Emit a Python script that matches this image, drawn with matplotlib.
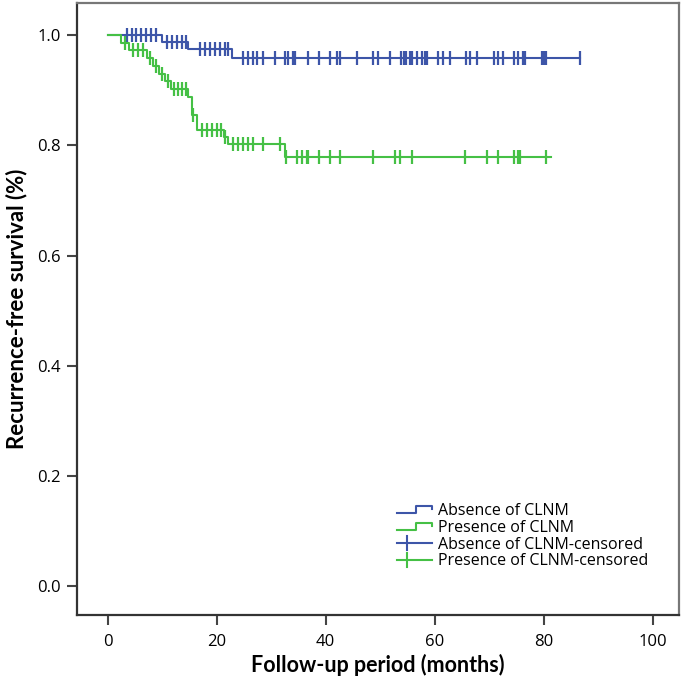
import numpy as np
import matplotlib
matplotlib.use("Agg")
from matplotlib import pyplot as plt
from matplotlib.legend_handler import HandlerBase
from matplotlib.lines import Line2D

# Absence of CLNM (blue)
blue_times = [0, 9.9, 14.8, 22.9]
blue_surv = [1.0, 0.987, 0.974, 0.958]
blue_end = 86.6
blue_censored = [3.5, 4.4, 5.3, 6.2, 7.1, 8.0, 8.9, 10.9, 11.8, 12.7, 13.6, 14.4,
                 17.0, 17.9, 18.8, 19.7, 20.6, 21.5, 22.1, 24.9, 25.8, 26.7, 27.4,
                 28.5, 30.7, 32.5, 33.1, 34.0, 34.4, 36.8, 38.8, 40.8, 42.0, 42.7,
                 45.7, 48.7, 49.6, 51.8, 53.9, 54.3, 54.8, 55.4, 55.9, 56.7, 57.6,
                 58.2, 58.6, 60.6, 61.5, 62.8, 65.7, 66.4, 67.7, 70.9, 71.6, 72.6,
                 74.5, 75.3, 76.2, 76.5, 79.6, 80.0, 80.5, 86.6]

# Presence of CLNM (green)
green_times = [0, 2.5, 4.0, 7.3, 8.3, 9.4, 10.5, 11.6, 14.8, 15.4, 16.4, 21.4, 22.1, 32.6]
green_surv = [1.0, 0.986, 0.972, 0.958, 0.944, 0.930, 0.916, 0.902, 0.888, 0.855,
              0.828, 0.815, 0.802, 0.779]
green_end = 81.4
green_censored = [3.2, 4.7, 5.5, 6.5, 7.8, 8.8, 9.9, 11.0, 12.2, 12.9, 13.6, 14.3,
                  15.7, 17.3, 18.2, 19.1, 20.0, 20.9, 21.6, 23.1, 24.0, 24.9, 25.8,
                  26.7, 28.6, 31.6, 32.8, 34.7, 35.6, 36.5, 36.8, 38.8, 40.8, 42.7,
                  48.7, 52.7, 53.6, 55.8, 65.5, 69.6, 71.6, 74.5, 75.3, 75.6, 80.5]

labels = ["Absence of CLNM", "Presence of CLNM",
          "Absence of CLNM-censored", "Presence of CLNM-censored"]

BLUE = "#3d55a8"
GREEN = "#45c045"
LABEL_FONT = ["Lato", "DejaVu Sans"]
TICK_FONT = ["Open Sans", "DejaVu Sans"]


class StepHandler(HandlerBase):
    def create_artists(self, legend, orig_handle, xdescent, ydescent,
                       width, height, fontsize, trans):
        xs = np.array([0.0, 0.55, 0.55, 1.0, 1.0]) * width - xdescent
        ys = np.array([0.15, 0.15, 0.8, 0.8, 0.5]) * height - ydescent
        line = Line2D(xs, ys, color=orig_handle.get_color(),
                      lw=orig_handle.get_linewidth())
        line.set_transform(trans)
        return [line]


class CensorHandler(HandlerBase):
    def create_artists(self, legend, orig_handle, xdescent, ydescent,
                       width, height, fontsize, trans):
        y = 0.5 * height - ydescent
        line = Line2D([-xdescent, width - xdescent], [y, y],
                      color=orig_handle.get_color(), lw=orig_handle.get_linewidth())
        tick = Line2D([0.3 * width - xdescent] * 2, [y - 0.6 * height, y + 0.6 * height],
                      color=orig_handle.get_color(), lw=orig_handle.get_linewidth())
        line.set_transform(trans)
        tick.set_transform(trans)
        return [line, tick]


def survival_at(times, surv, t):
    idx = np.searchsorted(times, t, side="right") - 1
    return np.asarray(surv)[idx]


fig = plt.figure(figsize=(6.85, 6.80), dpi=100)
ax = fig.add_axes([0.1124, 0.0956, 0.8788, 0.9])

curves = [
    (blue_times, blue_surv, blue_end, blue_censored, BLUE),
    (green_times, green_surv, green_end, green_censored, GREEN),
]
handles = []
for times, surv, end, cens, color in curves:
    xs = list(times) + [end]
    ys = list(surv) + [surv[-1]]
    (h,) = ax.step(xs, ys, where="post", color=color, lw=1.5)
    handles.append(h)
for times, surv, end, cens, color in curves:
    cy = survival_at(times, surv, cens)
    ax.plot(cens, cy, ls="none", marker="|", markersize=10, mew=1.6, color=color)
    handles.append(Line2D([], [], color=color, lw=1.5))

ax.set_xlim(-5.6, 104.8)
ax.set_ylim(-0.052, 1.058)
ax.set_xticks([0, 20, 40, 60, 80, 100])
ax.set_yticks([0.0, 0.2, 0.4, 0.6, 0.8, 1.0])
ax.set_yticklabels(["0.0", "0.2", "0.4", "0.6", "0.8", "1.0"])

for side in ["left", "bottom"]:
    ax.spines[side].set_color("#333333")
    ax.spines[side].set_linewidth(1.6)
for side in ["top", "right"]:
    ax.spines[side].set_color("#777777")
    ax.spines[side].set_linewidth(1.6)

ax.tick_params(axis="both", direction="out", length=7.5, width=1.5,
               color="#444444", labelsize=12)
ax.tick_params(axis="x", pad=6)
ax.tick_params(axis="y", pad=4)
for lab in ax.get_xticklabels() + ax.get_yticklabels():
    lab.set_family(TICK_FONT)

ax.set_xlabel("Follow-up period (months)", family=LABEL_FONT, fontweight="bold",
              fontsize=15.5, labelpad=3)
ax.set_ylabel("Recurrence-free survival (%)", family=LABEL_FONT, fontweight="bold",
              fontsize=16, labelpad=7)

ax.legend(handles, labels, loc="upper left", bbox_to_anchor=(0.518, 0.196),
          frameon=False, borderpad=0, prop={"family": TICK_FONT, "size": 11.5},
          handlelength=2.2, handletextpad=0.35, labelspacing=0.05,
          handler_map={handles[0]: StepHandler(), handles[1]: StepHandler(),
                       handles[2]: CensorHandler(), handles[3]: CensorHandler()})

fig.savefig("out.png", dpi=100)
